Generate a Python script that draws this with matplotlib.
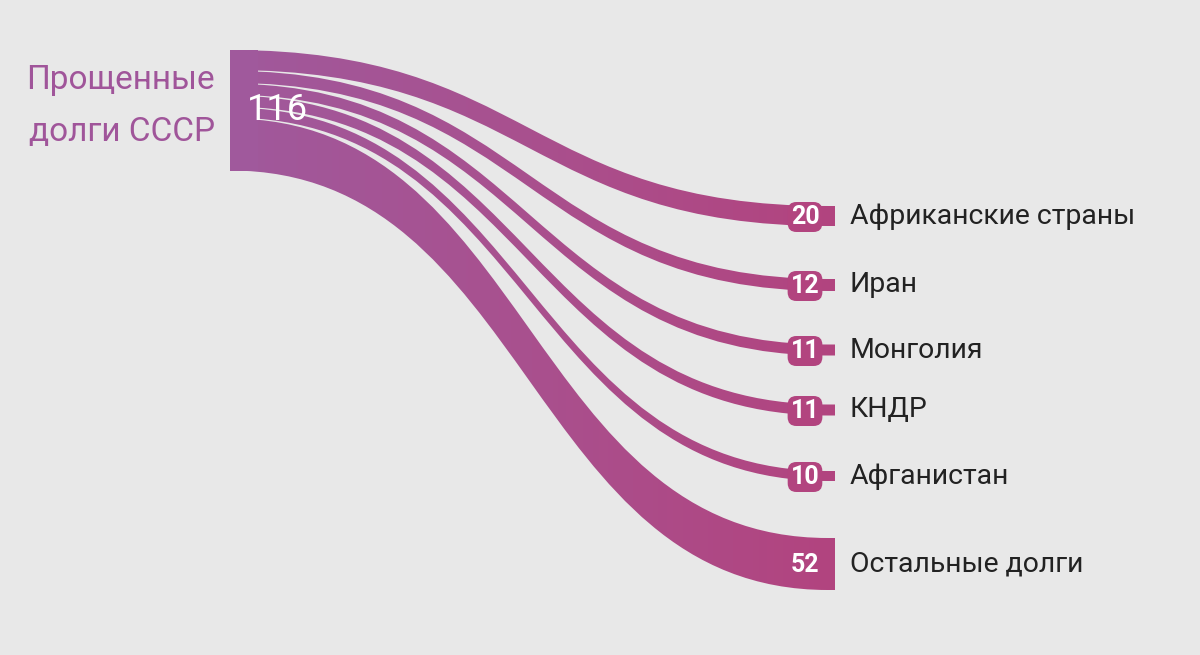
import numpy as np
import matplotlib.pyplot as plt
from matplotlib.path import Path
from matplotlib.patches import PathPatch, Rectangle
from matplotlib.colors import LinearSegmentedColormap

# Данные: прощенные долги СССР (млрд $)
source_label = "Прощенные\nдолги СССР"
total = 116
targets = ["Африканские страны", "Иран", "Монголия", "КНДР", "Афганистан", "Остальные долги"]
values = [20, 12, 11, 11, 10, 52]

# Размещение (в пикселях)
bg = "#e8e8e8"
x_left, x_curve_end, x_right = 230, 828, 835
top_left = 50
gap_left = 0.9
scale = 1.0
right_centers = [216, 285, 350, 410, 476, 564]
badge_color = "#b2447f"

cmap = LinearSegmentedColormap.from_list("band", ["#a0599c", "#a9508e", "#b2447f"])

fig = plt.figure(figsize=(12, 6.55), dpi=100)
fig.patch.set_facecolor(bg)
ax = fig.add_axes([0, 0, 1, 1])
ax.set_xlim(0, 1200)
ax.set_ylim(655, 0)
ax.axis("off")

grad = np.linspace(0, 1, 256).reshape(1, -1)


def band_path(yl0, yl1, yr0, yr1):
    k = 0.5 * (x_curve_end - x_left)
    verts = [
        (x_left, yl0),
        (x_left + k, yl0), (x_curve_end - k, yr0), (x_curve_end, yr0),
        (x_right, yr0),
        (x_right, yr1),
        (x_curve_end, yr1),
        (x_curve_end - k, yr1), (x_left + k, yl1), (x_left, yl1),
        (x_left, yl0),
    ]
    codes = [Path.MOVETO,
             Path.CURVE4, Path.CURVE4, Path.CURVE4,
             Path.LINETO, Path.LINETO, Path.LINETO,
             Path.CURVE4, Path.CURVE4, Path.CURVE4,
             Path.CLOSEPOLY]
    return Path(verts, codes)


y = top_left
for name, v, yc in zip(targets, values, right_centers):
    h = v * scale
    p = band_path(y, y + h, yc - h / 2, yc + h / 2)
    patch = PathPatch(p, facecolor="none", edgecolor="none")
    ax.add_patch(patch)
    im = ax.imshow(grad, cmap=cmap, aspect="auto",
                   extent=[x_left, x_right, 655, 0], zorder=2)
    im.set_clip_path(patch)
    y += h + gap_left

# сплошной блок источника слева
src = Rectangle((x_left, top_left), 28, y - gap_left - top_left,
                facecolor="#a0599c", edgecolor="none", zorder=3)
ax.add_patch(src)

ax.text(215, 106, source_label, ha="right", va="center", fontsize=24,
        color="#a0559a", family="Roboto", linespacing=1.8, zorder=5)
ax.text(247, 110, str(total), ha="left", va="center", fontsize=26,
        color="white", family="Roboto", zorder=5)

for name, v, yc in zip(targets, values, right_centers):
    box = None
    if name != targets[-1]:
        box = dict(boxstyle="round,pad=0.12,rounding_size=0.35",
                   facecolor=badge_color, edgecolor="none")
    ax.text(805, yc + 1, str(v), ha="center", va="center", fontsize=18,
            color="white", fontweight="bold", family="Roboto", zorder=6,
            bbox=box)
    ax.text(850, yc, name, ha="left", va="center", fontsize=20.4,
            color="#222222", family="Roboto", zorder=5)

fig.savefig("out.png", dpi=100, facecolor=bg)
